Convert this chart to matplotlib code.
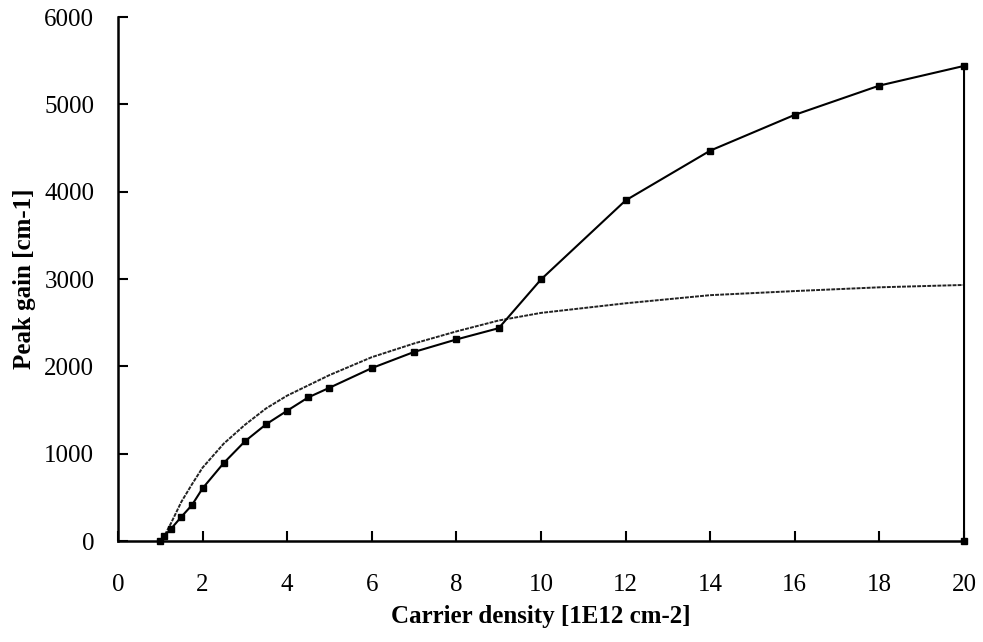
import matplotlib.pyplot as plt

# carrier density [1E12 cm-2] and peak gain [cm-1]
dens_sq = [1.0, 1.1, 1.25, 1.5, 1.75, 2.0, 2.5, 3.0, 3.5, 4.0, 4.5, 5.0, 6.0, 7.0, 8.0, 9.0,
           10.0, 12.0, 14.0, 16.0, 18.0, 20.0, 20.0]
gain_sq = [0, 60, 137, 278, 412, 603, 893, 1141, 1336, 1492, 1645, 1755, 1980, 2165, 2308,
           2437, 2995, 3900, 4470, 4880, 5215, 5440, 0]

dens_ln = [1.0, 1.25, 1.5, 1.75, 2.0, 2.5, 3.0, 3.5, 4.0, 5.0, 6.0, 7.0, 8.0, 9.0, 10.0,
           12.0, 14.0, 16.0, 18.0, 20.0]
gain_ln = [-30, 200, 450, 650, 840, 1115, 1330, 1518, 1665, 1900, 2105, 2262, 2400, 2525,
           2612, 2722, 2815, 2862, 2905, 2932]

xticks = list(range(0, 21, 2))
yticks = list(range(0, 6001, 1000))

plt.rcParams['font.family'] = ['Liberation Serif', 'DejaVu Serif']

fig = plt.figure(figsize=(9.83, 6.42), dpi=100)
ax = fig.add_axes([0.12, 0.1573, 0.8607, 0.8162])

ax.plot(dens_ln, gain_ln, color='#222222', lw=1.4, ls=(0, (2, 0.6)), clip_on=False, zorder=2)
ax.plot(dens_sq, gain_sq, color='black', lw=1.5, marker='s', ms=4, clip_on=False, zorder=3)

ax.set_xlim(0, 20)
ax.set_ylim(0, 6000)
ax.set_xticks(xticks)
ax.set_yticks(yticks)
ax.tick_params(direction='in', length=7, width=1.5, labelsize=18)
ax.tick_params(axis='x', pad=24)
ax.tick_params(axis='y', pad=17)

for s in ['top', 'right']:
    ax.spines[s].set_visible(False)
for s in ['left', 'bottom']:
    ax.spines[s].set_linewidth(1.8)

ax.set_xlabel('Carrier density [1E12 cm-2]', fontsize=18, fontweight='bold', labelpad=6)
ax.set_ylabel('Peak gain [cm-1]', fontsize=18, fontweight='bold', labelpad=6)

fig.savefig('out.png', dpi=100)
